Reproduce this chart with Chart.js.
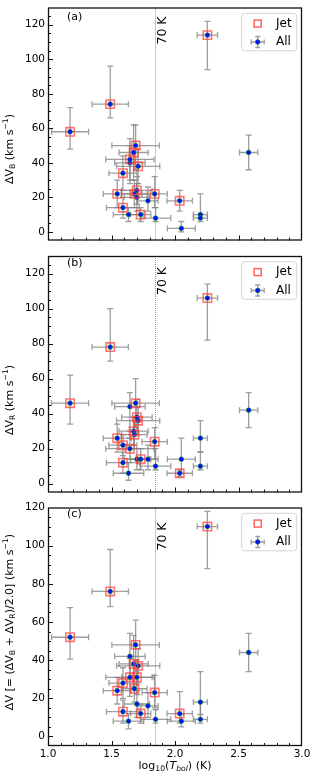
<!DOCTYPE html>
<html>
<head>
<meta charset="utf-8">
<script src="https://cdn.jsdelivr.net/npm/chart.js@4.4.1/dist/chart.umd.min.js"></script>
<style>
  html, body { margin: 0; padding: 0; background: #fff; }
  #wrap { position: relative; width: 316px; height: 777px; }
  canvas { position: absolute; left: 0; }
</style>
</head>
<body>
<div id="wrap">
  <canvas id="panelA" width="316" height="248" style="top:0px"></canvas>
  <canvas id="panelB" width="316" height="252" style="top:248px"></canvas>
  <canvas id="panelC" width="316" height="277" style="top:500px"></canvas>
</div>
<script>
"use strict";
const FONT = "'DejaVu Sans', sans-serif";

// one entry per source
const logTbol    = [1.174, 1.49, 2.255, 2.58, 1.69, 1.645, 1.674, 1.71, 1.645, 1.70, 1.59, 1.68, 1.545, 1.84, 1.70, 1.787, 2.20, 1.59, 1.73, 2.037, 1.634, 1.847, 2.05, 2.20];
const logTbolErr = [0.146, 0.143, 0.08, 0.072, 0.187, 0.12, 0.115, 0.17, 0.19, 0.12, 0.11, 0.10, 0.11, 0.10, 0.10, 0.08, 0.055, 0.13, 0.08, 0.10, 0.12, 0.12, 0.11, 0.055];
const hasJet     = [1, 1, 1, 0, 1, 0, 1, 1, 1, 1, 1, 1, 1, 1, 0, 0, 0, 1, 1, 1, 0, 0, 0, 0];

// blue-shifted width
const dVB   = [58, 74, 114, 46, 50, 40, 46, 38, 42, 24, 34, 22, 22, 22, 20, 18, 10, 14, 10, 18, 10, 8, 2, 8];
const dVBlo = [10, 8, 20, 10, 14, 10, 16, 10, 14, 8, 10, 8, 8, 8, 8, 6, 2, 6, 4, 6, 4, 2, 2, 2];
const dVBhi = [14, 22, 8, 10, 12, 10, 16, 10, 12, 8, 10, 8, 8, 10, 8, 8, 12, 6, 4, 6, 4, 6, 4, 2];

// red-shifted width
const dVR   = [46, 78, 106, 42, 46, 44, 30, 36, 20, 38, 22, 28, 26, 24, 14, 14, 26, 12, 14, 6, 6, 10, 14, 10];
const dVRlo = [12, 8, 24, 10, 14, 14, 8, 8, 6, 10, 6, 8, 8, 10, 6, 6, 8, 6, 6, 2, 4, 2, 8, 2];
const dVRhi = [16, 22, 8, 10, 14, 8, 8, 8, 6, 10, 6, 8, 8, 8, 6, 8, 10, 6, 6, 2, 6, 10, 12, 8];

// mean width
const dVM   = [52, 76, 110, 44, 48, 42, 38, 37, 31, 31, 28, 25, 24, 23, 17, 16, 18, 13, 12, 12, 8, 9, 8, 9];
const dVMlo = [11.5, 8, 22, 10, 14, 12, 12, 9, 10, 9, 8, 7, 7, 8, 7, 6, 6.5, 6, 5, 5, 4, 2, 3, 2];
const dVMhi = [15.5, 22, 8, 10, 13, 12, 15, 9, 10, 9, 8, 7, 7, 9, 7, 7, 16, 6, 5, 11.5, 4, 5, 3.5, 9];

const xTicks = [1.0, 1.5, 2.0, 2.5, 3.0];
const yTicks = [0, 20, 40, 60, 80, 100, 120];
const T70 = Math.log10(70);

const panels = [
  { id: "panelA", padTop: 3, xAxisH: 5, showX: false, v: dVB, lo: dVBlo, hi: dVBhi, yMax: 130,
    tag: "(a)", tagDy: 9.7, lineTextDy: 9, titleY: 149,
    title: [{ t: "ΔV" }, { t: "B", sub: 1 }, { t: " (km s" }, { t: "−1", sup: 1 }, { t: ")" }] },
  { id: "panelB", padTop: 8, xAxisH: 6, showX: false, v: dVR, lo: dVRlo, hi: dVRhi, yMax: 130,
    tag: "(b)", tagDy: 7, lineTextDy: 11, titleY: 152,
    title: [{ t: "ΔV" }, { t: "R", sub: 1 }, { t: " (km s" }, { t: "−1", sup: 1 }, { t: ")" }] },
  { id: "panelC", padTop: 7, xAxisH: 31, showX: true, v: dVM, lo: dVMlo, hi: dVMhi, yMax: 120,
    tag: "(c)", tagDy: 7, lineTextDy: 15, titleY: 122,
    title: [{ t: "ΔV [= (ΔV" }, { t: "B", sub: 1 }, { t: " + ΔV" }, { t: "R", sub: 1 },
            { t: ")/2.0] (km s" }, { t: "−1", sup: 1 }, { t: ")" }] }
];

const xTitle = [{ t: "log" }, { t: "10", sub: 1 }, { t: "(" }, { t: "T", it: 1 }, { t: "bol", sub: 1, it: 1 }, { t: ") (K)" }];

function segFont(s, size) {
  const sz = (s.sub || s.sup) ? size * 0.7 : size;
  return (s.it ? "italic " : "") + sz + "px " + FONT;
}

function drawRich(ctx, segs, cx, cy, size, angle) {
  ctx.save();
  ctx.translate(cx, cy);
  ctx.rotate(angle);
  let total = 0;
  segs.forEach(s => { ctx.font = segFont(s, size); total += ctx.measureText(s.t).width; });
  let x = -total / 2;
  ctx.fillStyle = "#000";
  ctx.textAlign = "left";
  ctx.textBaseline = "middle";
  segs.forEach(s => {
    ctx.font = segFont(s, size);
    const dy = s.sub ? size * 0.3 : s.sup ? -size * 0.38 : 0;
    ctx.fillText(s.t, x, dy);
    x += ctx.measureText(s.t).width;
  });
  ctx.restore();
}

function drawErrGlyph(ctx, px, py, x0, x1, y0, y1, cap) {
  ctx.beginPath();
  ctx.moveTo(x0, py); ctx.lineTo(x1, py);
  ctx.moveTo(px, y0); ctx.lineTo(px, y1);
  ctx.moveTo(x0, py - cap); ctx.lineTo(x0, py + cap);
  ctx.moveTo(x1, py - cap); ctx.lineTo(x1, py + cap);
  ctx.moveTo(px - cap, y0); ctx.lineTo(px + cap, y0);
  ctx.moveTo(px - cap, y1); ctx.lineTo(px + cap, y1);
  ctx.stroke();
}

const errorBars = {
  id: "errorBars",
  beforeDatasetsDraw(chart) {
    const { ctx, scales: { x, y }, chartArea: a } = chart;
    ctx.save();
    // 70 K line
    const lx = Math.round(x.getPixelForValue(T70)) + 0.5;
    ctx.strokeStyle = "rgba(230,60,60,0.75)";
    ctx.lineWidth = 1;
    ctx.setLineDash([1, 1]);
    ctx.beginPath();
    ctx.moveTo(lx, a.top); ctx.lineTo(lx, a.bottom);
    ctx.stroke();
    ctx.setLineDash([]);
    // error bars of all sources
    ctx.strokeStyle = "rgba(125,125,125,0.75)";
    ctx.lineWidth = 1.3;
    chart.data.datasets[1].data.forEach(p => {
      drawErrGlyph(ctx,
        x.getPixelForValue(p.x), y.getPixelForValue(p.y),
        x.getPixelForValue(p.x - p.xe), x.getPixelForValue(p.x + p.xe),
        y.getPixelForValue(p.y - p.lo), y.getPixelForValue(p.y + p.hi), 3);
    });
    ctx.restore();
  }
};

const frameTicks = {
  id: "frameTicks",
  afterDraw(chart) {
    const { ctx, scales: { x, y }, chartArea: a } = chart;
    const p = chart.options.panel;
    ctx.save();
    ctx.strokeStyle = "#111";
    ctx.lineWidth = 1.3;
    ctx.strokeRect(a.left + 0.5, a.top + 0.5, a.right - a.left - 1, a.bottom - a.top - 1);
    ctx.lineWidth = 1;
    ctx.beginPath();
    for (let i = 1; i < 20; i++) {
      const v = x.min + i * 0.1;
      const px = Math.round(x.getPixelForValue(v)) + 0.5;
      const len = (i % 5 === 0) ? 5 : 3;
      ctx.moveTo(px, a.bottom); ctx.lineTo(px, a.bottom - len);
    }
    for (let v = 0; v < y.max; v += 5) {
      const py = Math.round(y.getPixelForValue(v)) + 0.5;
      const len = (v % 20 === 0) ? 5 : 3;
      ctx.moveTo(a.left, py); ctx.lineTo(a.left + len, py);
    }
    ctx.stroke();

    // panel tag
    ctx.fillStyle = "#000";
    ctx.font = "11px " + FONT;
    ctx.textAlign = "left";
    ctx.textBaseline = "middle";
    ctx.fillText(p.tag, x.getPixelForValue(1.15), a.top + p.tagDy);

    // 70 K label
    ctx.save();
    ctx.translate(x.getPixelForValue(T70) + 1.5, a.top + p.lineTextDy);
    ctx.rotate(-Math.PI / 2);
    ctx.font = "12.5px " + FONT;
    ctx.textAlign = "right";
    ctx.textBaseline = "top";
    ctx.fillText("70 K", 0, 0);
    ctx.restore();

    // axis titles
    drawRich(ctx, p.title, 10, p.titleY, 11, -Math.PI / 2);
    if (p.showX) drawRich(ctx, xTitle, (a.left + a.right) / 2, a.bottom + 20, 11, 0);

    // legend
    const bx = a.right - 60.3, by = a.top + 5.8, bw = 55, bh = 37.5;
    ctx.beginPath();
    ctx.roundRect(bx, by, bw, bh, 3);
    ctx.fillStyle = "rgba(255,255,255,0.85)";
    ctx.fill();
    ctx.strokeStyle = "#d4d4d4";
    ctx.lineWidth = 1;
    ctx.stroke();
    const mx = bx + 16;
    const y1 = by + 10.3, y2 = by + 28.7;
    ctx.strokeStyle = "rgba(255,60,60,0.8)";
    ctx.lineWidth = 1.5;
    ctx.strokeRect(mx - 3.5, y1 - 3.5, 7, 7);
    ctx.strokeStyle = "rgba(125,125,125,0.75)";
    ctx.lineWidth = 1.3;
    drawErrGlyph(ctx, mx, y2, mx - 6.5, mx + 6.5, y2 + 5.5, y2 - 5.5, 2.5);
    ctx.beginPath();
    ctx.arc(mx, y2, 2.4, 0, Math.PI * 2);
    ctx.fillStyle = "#0010ff";
    ctx.fill();
    ctx.strokeStyle = "#1a9a1a";
    ctx.lineWidth = 0.6;
    ctx.stroke();
    ctx.fillStyle = "#000";
    ctx.font = "12px " + FONT;
    ctx.textAlign = "left";
    ctx.textBaseline = "middle";
    ctx.fillText("Jet", bx + 34.3, y1);
    ctx.fillText("All", bx + 34.3, y2);
    ctx.restore();
  }
};

Chart.defaults.font.family = FONT;
Chart.defaults.font.size = 10.5;
Chart.defaults.color = "#000";

panels.forEach(p => {
  const allPts = logTbol.map((lx, i) => ({ x: lx, y: p.v[i], xe: logTbolErr[i], lo: p.lo[i], hi: p.hi[i] }));
  const jetPts = allPts.filter((pt, i) => hasJet[i]);
  new Chart(document.getElementById(p.id), {
    type: "scatter",
    data: {
      datasets: [
        { label: "Jet", data: jetPts, pointStyle: "rect", pointRadius: 5.9, borderWidth: 1.6,
          borderColor: "rgba(255,60,60,0.7)", backgroundColor: "rgba(0,0,0,0)" },
        { label: "All", data: allPts, pointStyle: "circle", pointRadius: 2.4, borderWidth: 0.6,
          borderColor: "#1a9a1a", backgroundColor: "#0010ff" }
      ]
    },
    options: {
      panel: p,
      responsive: false,
      animation: false,
      events: [],
      layout: { padding: { top: p.padTop, right: 14, left: 0, bottom: 0 } },
      plugins: { legend: { display: false }, tooltip: { enabled: false } },
      scales: {
        x: {
          type: "linear", min: 1, max: 3,
          grid: { display: false, drawTicks: false },
          border: { display: false },
          ticks: { display: p.showX, padding: 2, callback: v => v.toFixed(1) },
          afterBuildTicks: s => { s.ticks = xTicks.map(v => ({ value: v })); },
          afterFit: s => { s.height = p.xAxisH; s.paddingLeft = 0; s.paddingRight = 0; }
        },
        y: {
          type: "linear", min: -5, max: p.yMax,
          grid: { display: false, drawTicks: false },
          border: { display: false },
          ticks: { padding: 3 },
          afterBuildTicks: s => { s.ticks = yTicks.map(v => ({ value: v })); },
          afterFit: s => { s.width = 48; s.paddingTop = 0; s.paddingBottom = 0; }
        }
      }
    },
    plugins: [errorBars, frameTicks]
  });
});
</script>
</body>
</html>
